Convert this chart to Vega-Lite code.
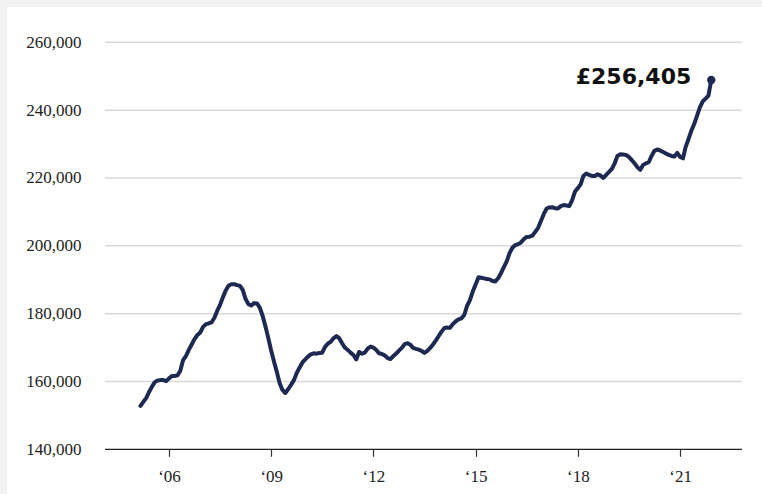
{
  "$schema": "https://vega.github.io/schema/vega-lite/v6.json",
  "autosize": "none",
  "width": 755,
  "height": 487,
  "padding": {"left": 7, "top": 7, "right": 0, "bottom": 0},
  "background": "#f2f2f2",
  "config": {
    "view": {"fill": "white", "stroke": null},
    "axisX": {"offset": -44.7, "domain": false, "grid": false, "ticks": true, "tickSize": 7, "tickColor": "#333333", "tickWidth": 1.2, "labelFont": "Liberation Serif", "labelFontSize": 17, "labelColor": "#222222", "labelPadding": 12, "labelFlush": false},
    "axisY": {"offset": -74, "domain": false, "grid": false, "ticks": false, "tickSize": 0, "labelFont": "Liberation Serif", "labelFontSize": 17, "labelColor": "#222222", "labelPadding": 0}
  },
  "datasets": {
    "prices": [
      {"date": "2005-03-01", "price": 152800}, {"date": "2005-04-01", "price": 154000}, {"date": "2005-05-01", "price": 155100}, {"date": "2005-06-01", "price": 156900}, {"date": "2005-07-01", "price": 158400}, {"date": "2005-08-01", "price": 159800}, {"date": "2005-09-01", "price": 160300}, {"date": "2005-10-01", "price": 160400}, {"date": "2005-11-01", "price": 160400}, {"date": "2005-12-01", "price": 160100},
      {"date": "2006-01-01", "price": 160900}, {"date": "2006-02-01", "price": 161600}, {"date": "2006-03-01", "price": 161600}, {"date": "2006-04-01", "price": 161800}, {"date": "2006-05-01", "price": 163100}, {"date": "2006-06-01", "price": 166300}, {"date": "2006-07-01", "price": 167500}, {"date": "2006-08-01", "price": 169300}, {"date": "2006-09-01", "price": 170900}, {"date": "2006-10-01", "price": 172500}, {"date": "2006-11-01", "price": 173700}, {"date": "2006-12-01", "price": 174400},
      {"date": "2007-01-01", "price": 176100}, {"date": "2007-02-01", "price": 176900}, {"date": "2007-03-01", "price": 177100}, {"date": "2007-04-01", "price": 177400}, {"date": "2007-05-01", "price": 178700}, {"date": "2007-06-01", "price": 180800}, {"date": "2007-07-01", "price": 182500}, {"date": "2007-08-01", "price": 184800}, {"date": "2007-09-01", "price": 186800}, {"date": "2007-10-01", "price": 188200}, {"date": "2007-11-01", "price": 188700}, {"date": "2007-12-01", "price": 188700},
      {"date": "2008-01-01", "price": 188400}, {"date": "2008-02-01", "price": 188200}, {"date": "2008-03-01", "price": 187000}, {"date": "2008-04-01", "price": 184300}, {"date": "2008-05-01", "price": 182800}, {"date": "2008-06-01", "price": 182400}, {"date": "2008-07-01", "price": 183100}, {"date": "2008-08-01", "price": 183000}, {"date": "2008-09-01", "price": 181700}, {"date": "2008-10-01", "price": 179300}, {"date": "2008-11-01", "price": 176100}, {"date": "2008-12-01", "price": 172700},
      {"date": "2009-01-01", "price": 169000}, {"date": "2009-02-01", "price": 165700}, {"date": "2009-03-01", "price": 162900}, {"date": "2009-04-01", "price": 159500}, {"date": "2009-05-01", "price": 157500}, {"date": "2009-06-01", "price": 156600}, {"date": "2009-07-01", "price": 157700}, {"date": "2009-08-01", "price": 159000}, {"date": "2009-09-01", "price": 160400}, {"date": "2009-10-01", "price": 162500}, {"date": "2009-11-01", "price": 164100}, {"date": "2009-12-01", "price": 165600},
      {"date": "2010-01-01", "price": 166500}, {"date": "2010-02-01", "price": 167400}, {"date": "2010-03-01", "price": 168000}, {"date": "2010-04-01", "price": 168300}, {"date": "2010-05-01", "price": 168200}, {"date": "2010-06-01", "price": 168400}, {"date": "2010-07-01", "price": 168500}, {"date": "2010-08-01", "price": 170200}, {"date": "2010-09-01", "price": 171200}, {"date": "2010-10-01", "price": 171700}, {"date": "2010-11-01", "price": 172800}, {"date": "2010-12-01", "price": 173400},
      {"date": "2011-01-01", "price": 172700}, {"date": "2011-02-01", "price": 171200}, {"date": "2011-03-01", "price": 170000}, {"date": "2011-04-01", "price": 169300}, {"date": "2011-05-01", "price": 168500}, {"date": "2011-06-01", "price": 167800}, {"date": "2011-07-01", "price": 166500}, {"date": "2011-08-01", "price": 168700}, {"date": "2011-09-01", "price": 168200}, {"date": "2011-10-01", "price": 168500}, {"date": "2011-11-01", "price": 169700}, {"date": "2011-12-01", "price": 170300},
      {"date": "2012-01-01", "price": 170000}, {"date": "2012-02-01", "price": 169300}, {"date": "2012-03-01", "price": 168300}, {"date": "2012-04-01", "price": 168100}, {"date": "2012-05-01", "price": 167700}, {"date": "2012-06-01", "price": 166900}, {"date": "2012-07-01", "price": 166600}, {"date": "2012-08-01", "price": 167500}, {"date": "2012-09-01", "price": 168200}, {"date": "2012-10-01", "price": 169100}, {"date": "2012-11-01", "price": 169900}, {"date": "2012-12-01", "price": 171000},
      {"date": "2013-01-01", "price": 171300}, {"date": "2013-02-01", "price": 170800}, {"date": "2013-03-01", "price": 169900}, {"date": "2013-04-01", "price": 169600}, {"date": "2013-05-01", "price": 169400}, {"date": "2013-06-01", "price": 169000}, {"date": "2013-07-01", "price": 168400}, {"date": "2013-08-01", "price": 169000}, {"date": "2013-09-01", "price": 169900}, {"date": "2013-10-01", "price": 170900}, {"date": "2013-11-01", "price": 172100}, {"date": "2013-12-01", "price": 173400},
      {"date": "2014-01-01", "price": 174700}, {"date": "2014-02-01", "price": 175800}, {"date": "2014-03-01", "price": 175900}, {"date": "2014-04-01", "price": 175800}, {"date": "2014-05-01", "price": 176900}, {"date": "2014-06-01", "price": 177700}, {"date": "2014-07-01", "price": 178300}, {"date": "2014-08-01", "price": 178600}, {"date": "2014-09-01", "price": 179600}, {"date": "2014-10-01", "price": 182300}, {"date": "2014-11-01", "price": 184000}, {"date": "2014-12-01", "price": 186500},
      {"date": "2015-01-01", "price": 188600}, {"date": "2015-02-01", "price": 190700}, {"date": "2015-03-01", "price": 190600}, {"date": "2015-04-01", "price": 190400}, {"date": "2015-05-01", "price": 190200}, {"date": "2015-06-01", "price": 190100}, {"date": "2015-07-01", "price": 189600}, {"date": "2015-08-01", "price": 189500}, {"date": "2015-09-01", "price": 190500}, {"date": "2015-10-01", "price": 192000}, {"date": "2015-11-01", "price": 193800}, {"date": "2015-12-01", "price": 195500},
      {"date": "2016-01-01", "price": 197900}, {"date": "2016-02-01", "price": 199500}, {"date": "2016-03-01", "price": 200200}, {"date": "2016-04-01", "price": 200500}, {"date": "2016-05-01", "price": 201000}, {"date": "2016-06-01", "price": 202000}, {"date": "2016-07-01", "price": 202600}, {"date": "2016-08-01", "price": 202700}, {"date": "2016-09-01", "price": 203000}, {"date": "2016-10-01", "price": 204100}, {"date": "2016-11-01", "price": 205300}, {"date": "2016-12-01", "price": 207300},
      {"date": "2017-01-01", "price": 209400}, {"date": "2017-02-01", "price": 211000}, {"date": "2017-03-01", "price": 211300}, {"date": "2017-04-01", "price": 211400}, {"date": "2017-05-01", "price": 211100}, {"date": "2017-06-01", "price": 211000}, {"date": "2017-07-01", "price": 211700}, {"date": "2017-08-01", "price": 212000}, {"date": "2017-09-01", "price": 211900}, {"date": "2017-10-01", "price": 211700}, {"date": "2017-11-01", "price": 213500}, {"date": "2017-12-01", "price": 216000},
      {"date": "2018-01-01", "price": 217000}, {"date": "2018-02-01", "price": 218200}, {"date": "2018-03-01", "price": 220600}, {"date": "2018-04-01", "price": 221300}, {"date": "2018-05-01", "price": 220900}, {"date": "2018-06-01", "price": 220600}, {"date": "2018-07-01", "price": 220600}, {"date": "2018-08-01", "price": 221100}, {"date": "2018-09-01", "price": 220700}, {"date": "2018-10-01", "price": 220000}, {"date": "2018-11-01", "price": 220900}, {"date": "2018-12-01", "price": 221800},
      {"date": "2019-01-01", "price": 222700}, {"date": "2019-02-01", "price": 224400}, {"date": "2019-03-01", "price": 226500}, {"date": "2019-04-01", "price": 227000}, {"date": "2019-05-01", "price": 226900}, {"date": "2019-06-01", "price": 226800}, {"date": "2019-07-01", "price": 226200}, {"date": "2019-08-01", "price": 225300}, {"date": "2019-09-01", "price": 224300}, {"date": "2019-10-01", "price": 223200}, {"date": "2019-11-01", "price": 222400}, {"date": "2019-12-01", "price": 223800},
      {"date": "2020-01-01", "price": 224300}, {"date": "2020-02-01", "price": 224700}, {"date": "2020-03-01", "price": 226500}, {"date": "2020-04-01", "price": 228000}, {"date": "2020-05-01", "price": 228400}, {"date": "2020-06-01", "price": 228100}, {"date": "2020-07-01", "price": 227700}, {"date": "2020-08-01", "price": 227200}, {"date": "2020-09-01", "price": 226800}, {"date": "2020-10-01", "price": 226500}, {"date": "2020-11-01", "price": 226300}, {"date": "2020-12-01", "price": 227400},
      {"date": "2021-01-01", "price": 226200}, {"date": "2021-02-01", "price": 225800}, {"date": "2021-03-01", "price": 229100}, {"date": "2021-04-01", "price": 231500}, {"date": "2021-05-01", "price": 233900}, {"date": "2021-06-01", "price": 235900}, {"date": "2021-07-01", "price": 238300}, {"date": "2021-08-01", "price": 240800}, {"date": "2021-09-01", "price": 242600}, {"date": "2021-10-01", "price": 243400}, {"date": "2021-11-01", "price": 244300}, {"date": "2021-12-01", "price": 248900}
    ],
    "grid": [
      {"price": 160000}, {"price": 180000}, {"price": 200000}, {"price": 220000}, {"price": 240000}, {"price": 260000}
    ],
    "base": [{"price": 140000}]
  },
  "layer": [
    {
      "data": {"name": "grid"},
      "mark": {"type": "rule", "color": "#d9d9d9", "strokeWidth": 1.5},
      "encoding": {
        "x": {"datum": {"year": 2004, "month": 2, "date": 14, "utc": true}, "type": "temporal",
          "scale": {"type": "utc", "domain": [{"year": 2001, "month": 3, "date": 31, "utc": true}, {"year": 2023, "month": 5, "date": 29, "utc": true}]},
          "axis": {"title": null, "values": [{"year": 2006, "utc": true}, {"year": 2009, "utc": true}, {"year": 2012, "utc": true}, {"year": 2015, "utc": true}, {"year": 2018, "utc": true}, {"year": 2021, "utc": true}], "labelExpr": "'‘' + utcFormat(datum.value, '%y')"}},
        "x2": {"datum": {"year": 2022, "month": 10, "date": 26, "utc": true}},
        "y": {"field": "price", "type": "quantitative",
          "scale": {"domain": [126820, 270412], "nice": false, "zero": false},
          "axis": {"title": null, "values": [140000, 160000, 180000, 200000, 220000, 240000, 260000], "labelExpr": "format(datum.value, ',')"}}
      }
    },
    {
      "data": {"name": "base"},
      "mark": {"type": "rule", "color": "#222222", "strokeWidth": 1.3},
      "encoding": {
        "x": {"datum": {"year": 2004, "month": 2, "date": 14, "utc": true}, "type": "temporal"},
        "x2": {"datum": {"year": 2022, "month": 10, "date": 26, "utc": true}},
        "y": {"field": "price", "type": "quantitative"}
      }
    },
    {
      "data": {"name": "prices"},
      "mark": {"type": "line", "color": "#1d2950", "strokeWidth": 4, "strokeCap": "round", "strokeJoin": "round"},
      "encoding": {
        "x": {"field": "date", "type": "temporal"},
        "y": {"field": "price", "type": "quantitative"}
      }
    },
    {
      "data": {"name": "prices"},
      "transform": [{"filter": "utcyear(datum.date) == 2021 && utcmonth(datum.date) == 11"}],
      "mark": {"type": "circle", "color": "#1d2950", "size": 70, "opacity": 1},
      "encoding": {
        "x": {"field": "date", "type": "temporal"},
        "y": {"field": "price", "type": "quantitative"}
      }
    },
    {
      "data": {"name": "prices"},
      "transform": [{"filter": "utcyear(datum.date) == 2021 && utcmonth(datum.date) == 11"}],
      "mark": {"type": "text", "align": "right", "baseline": "middle", "dx": -20, "dy": -3, "font": "DejaVu Sans", "fontWeight": "bold", "fontSize": 22, "color": "#111111"},
      "encoding": {
        "x": {"field": "date", "type": "temporal"},
        "y": {"field": "price", "type": "quantitative"},
        "text": {"value": "£256,405"}
      }
    }
  ]
}
